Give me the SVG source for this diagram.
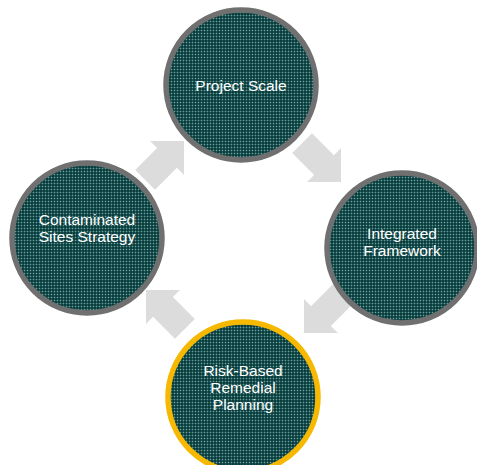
<svg xmlns="http://www.w3.org/2000/svg" width="477" height="465" viewBox="0 0 477 465">
<defs>
<pattern id="grid" x="0" y="0" width="3" height="3" patternUnits="userSpaceOnUse">
<rect width="3" height="3" fill="#0a3e3e"/>
<rect width="3" height="1" fill="#235858"/>
<rect width="1" height="3" fill="#235858"/>
<rect width="1" height="1" fill="#6f9d9a"/>
</pattern>
<path id="arr" d="M0,0 L-24,-24 L-24,-14 L-55,-14 L-55,14 L-24,14 L-24,24 Z"/>
</defs>
<style>
.arrow{fill:#dcdcdc}
.node{fill:url(#grid);stroke:#707070;stroke-width:5.5}
.hl{stroke:#f6b800}
.lbl{font-family:"Liberation Sans",Arial,sans-serif;font-size:15.5px;fill:#ffffff;text-anchor:middle}
</style>
<rect width="477" height="465" fill="#ffffff"/>
<g id="connectors">
<use href="#arr" class="arrow" transform="translate(184,141) rotate(-45)"/>
<use href="#arr" class="arrow" transform="translate(341,182) rotate(45)"/>
<use href="#arr" class="arrow" transform="translate(304,333) rotate(135)"/>
<use href="#arr" class="arrow" transform="translate(146,290) rotate(-135)"/>
</g>
<g id="project-scale">
<circle class="node" cx="241" cy="85" r="75"/>
<text class="lbl" x="241" y="91">Project Scale</text>
</g>
<g id="integrated-framework">
<circle class="node" cx="402" cy="248" r="75"/>
<text class="lbl" x="402" y="239">Integrated</text>
<text class="lbl" x="402" y="256">Framework</text>
</g>
<g id="risk-based-remedial-planning">
<circle class="node hl" cx="243" cy="397" r="75"/>
<text class="lbl" x="243" y="376">Risk-Based</text>
<text class="lbl" x="243" y="393">Remedial</text>
<text class="lbl" x="243" y="410">Planning</text>
</g>
<g id="contaminated-sites-strategy">
<circle class="node" cx="87" cy="238" r="75"/>
<text class="lbl" x="87" y="225">Contaminated</text>
<text class="lbl" x="87" y="242">Sites Strategy</text>
</g>
</svg>
